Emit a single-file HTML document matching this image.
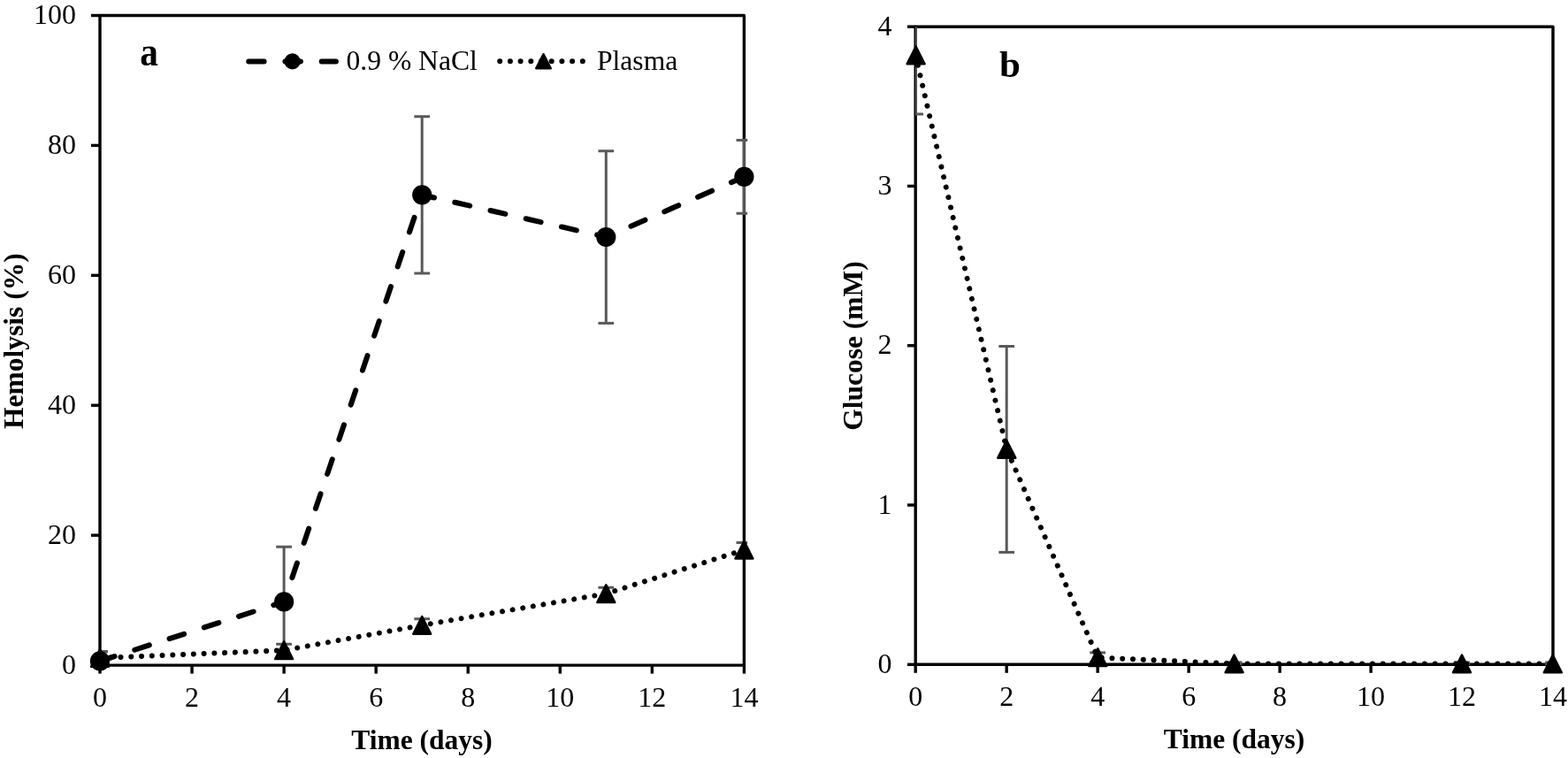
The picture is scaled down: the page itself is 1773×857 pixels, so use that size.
<!DOCTYPE html>
<html><head><meta charset="utf-8"><title>Hemolysis and glucose over time</title>
<style>
html,body{margin:0;padding:0;background:#fff;}
body{width:1773px;height:857px;overflow:hidden;}
svg{display:block;}
</style></head>
<body>
<svg width="1773" height="857" viewBox="0 0 1773 857">
<rect width="1773" height="857" fill="#fff"/>
<defs><clipPath id="ca"><rect x="113.3" y="17.5" width="731.9" height="736.3"/></clipPath>
<clipPath id="cb"><rect x="1035" y="30.2" width="724.8" height="722.8"/></clipPath></defs>
<g stroke="#000" stroke-width="3.4" fill="none" stroke-linecap="square" stroke-linejoin="round">
<rect x="113" y="17.5" width="728.4" height="734.6"/>
</g>
<g stroke="#000" stroke-width="3.4">
<line x1="103" y1="752.1" x2="113" y2="752.1"/>
<line x1="103" y1="605.18" x2="113" y2="605.18"/>
<line x1="103" y1="458.26" x2="113" y2="458.26"/>
<line x1="103" y1="311.34" x2="113" y2="311.34"/>
<line x1="103" y1="164.42" x2="113" y2="164.42"/>
<line x1="103" y1="17.5" x2="113" y2="17.5"/>
<line x1="113" y1="752.1" x2="113" y2="761.6"/>
<line x1="217.06" y1="752.1" x2="217.06" y2="761.6"/>
<line x1="321.12" y1="752.1" x2="321.12" y2="761.6"/>
<line x1="425.18" y1="752.1" x2="425.18" y2="761.6"/>
<line x1="529.24" y1="752.1" x2="529.24" y2="761.6"/>
<line x1="633.3" y1="752.1" x2="633.3" y2="761.6"/>
<line x1="737.36" y1="752.1" x2="737.36" y2="761.6"/>
<line x1="841.42" y1="752.1" x2="841.42" y2="761.6"/>
</g>
<g font-family='"Liberation Serif", serif' font-size="32" fill="#000">
<text x="86" y="761.8" text-anchor="end">0</text>
<text x="86" y="614.88" text-anchor="end">20</text>
<text x="86" y="467.96" text-anchor="end">40</text>
<text x="86" y="321.04" text-anchor="end">60</text>
<text x="86" y="174.12" text-anchor="end">80</text>
<text x="86" y="27.2" text-anchor="end">100</text>
<text x="113" y="798.5" text-anchor="middle">0</text>
<text x="217.06" y="798.5" text-anchor="middle">2</text>
<text x="321.12" y="798.5" text-anchor="middle">4</text>
<text x="425.18" y="798.5" text-anchor="middle">6</text>
<text x="529.24" y="798.5" text-anchor="middle">8</text>
<text x="633.3" y="798.5" text-anchor="middle">10</text>
<text x="737.36" y="798.5" text-anchor="middle">12</text>
<text x="841.42" y="798.5" text-anchor="middle">14</text>
</g>
<text font-family='"Liberation Serif", serif' font-size="31.5" font-weight="bold" x="477" y="846.5" text-anchor="middle">Time (days)</text>
<text font-family='"Liberation Serif", serif' font-size="31.5" font-weight="bold" transform="translate(26,385.6) rotate(-90)" text-anchor="middle">Hemolysis (%)</text>
<text font-family='"Liberation Serif", serif' font-size="43" font-weight="bold" transform="translate(158.2,74.3) scale(0.96,1.075)">a</text>
<g clip-path="url(#ca)">
<g stroke="#595959" stroke-width="3" fill="none">
<line x1="113" y1="758.2" x2="113" y2="736.6"/><line x1="104.15" y1="758.2" x2="121.85" y2="758.2"/><line x1="104.15" y1="736.6" x2="121.85" y2="736.6"/>
<line x1="321.1" y1="742.6" x2="321.1" y2="618.2"/><line x1="312.25" y1="742.6" x2="329.95" y2="742.6"/><line x1="312.25" y1="618.2" x2="329.95" y2="618.2"/>
<line x1="477.2" y1="309" x2="477.2" y2="131.8"/><line x1="468.35" y1="309" x2="486.05" y2="309"/><line x1="468.35" y1="131.8" x2="486.05" y2="131.8"/>
<line x1="685.3" y1="365.4" x2="685.3" y2="170.7"/><line x1="676.45" y1="365.4" x2="694.15" y2="365.4"/><line x1="676.45" y1="170.7" x2="694.15" y2="170.7"/>
<line x1="841.4" y1="241.3" x2="841.4" y2="158.4"/><line x1="832.55" y1="241.3" x2="850.25" y2="241.3"/><line x1="832.55" y1="158.4" x2="850.25" y2="158.4"/>
</g>
<polyline points="113,747.4 321.1,680.4 477.2,220.3 685.3,268 841.4,199.85" fill="none" stroke="#000" stroke-width="6" stroke-linecap="round" stroke-dasharray="17.4 23.85"/>
<g stroke="#595959" stroke-width="3" fill="none">
<line x1="113" y1="750.8" x2="113" y2="737"/><line x1="104.15" y1="750.8" x2="121.85" y2="750.8"/><line x1="104.15" y1="737" x2="121.85" y2="737"/>
<line x1="321.1" y1="742.2" x2="321.1" y2="728.2"/><line x1="312.25" y1="742.2" x2="329.95" y2="742.2"/><line x1="312.25" y1="728.2" x2="329.95" y2="728.2"/>
<line x1="477.2" y1="714" x2="477.2" y2="699.8"/><line x1="468.35" y1="714" x2="486.05" y2="714"/><line x1="468.35" y1="699.8" x2="486.05" y2="699.8"/>
<line x1="685.3" y1="678.1" x2="685.3" y2="664.3"/><line x1="676.45" y1="678.1" x2="694.15" y2="678.1"/><line x1="676.45" y1="664.3" x2="694.15" y2="664.3"/>
<line x1="841.4" y1="629.9" x2="841.4" y2="613.5"/><line x1="832.55" y1="629.9" x2="850.25" y2="629.9"/><line x1="832.55" y1="613.5" x2="850.25" y2="613.5"/>
</g>
<polyline points="113,743.9 321.1,735.2 477.2,706.9 685.3,671.2 841.4,621.7" fill="none" stroke="#000" stroke-width="6" stroke-linecap="round" stroke-dasharray="0.01 11.76"/>
</g>
<circle cx="113" cy="747.4" r="11.1" fill="#000"/>
<circle cx="321.1" cy="680.4" r="11.1" fill="#000"/>
<circle cx="477.2" cy="220.3" r="11.1" fill="#000"/>
<circle cx="685.3" cy="268" r="11.1" fill="#000"/>
<circle cx="841.4" cy="199.85" r="11.1" fill="#000"/>
<polygon points="113,734.05 122.95,753.75 103.05,753.75" fill="#000" stroke="#000" stroke-width="2.5" stroke-linejoin="round"/>
<polygon points="321.1,725.35 331.05,745.05 311.15,745.05" fill="#000" stroke="#000" stroke-width="2.5" stroke-linejoin="round"/>
<polygon points="477.2,697.05 487.15,716.75 467.25,716.75" fill="#000" stroke="#000" stroke-width="2.5" stroke-linejoin="round"/>
<polygon points="685.3,661.35 695.25,681.05 675.35,681.05" fill="#000" stroke="#000" stroke-width="2.5" stroke-linejoin="round"/>
<polygon points="841.4,611.85 851.35,631.55 831.45,631.55" fill="#000" stroke="#000" stroke-width="2.5" stroke-linejoin="round"/>
<line x1="281.2" y1="69.4" x2="379.9" y2="69.4" stroke="#000" stroke-width="6" stroke-linecap="round" stroke-dasharray="17.4 23.85" stroke-dashoffset="0"/>
<circle cx="330.6" cy="69.4" r="9.1" fill="#000"/>
<text font-family='"Liberation Serif", serif' font-size="31.6" x="391.5" y="79.3">0.9 % NaCl</text>
<line x1="565.2" y1="69.2" x2="665" y2="69.2" stroke="#000" stroke-width="6" stroke-linecap="round" stroke-dasharray="0.01 11.69"/>
<polygon points="614.5,61.1 622.9,77.3 606.1,77.3" fill="#000" stroke="#000" stroke-width="2.2" stroke-linejoin="round"/>
<text font-family='"Liberation Serif", serif' font-size="31.6" x="675" y="78.5">Plasma</text>
<g stroke="#000" stroke-width="3.4" fill="none" stroke-linecap="square" stroke-linejoin="round">
<rect x="1035.2" y="30.2" width="720.8" height="721.1"/>
</g>
<g stroke="#000" stroke-width="3.4">
<line x1="1026" y1="751.3" x2="1035.2" y2="751.3"/>
<line x1="1026" y1="571.02" x2="1035.2" y2="571.02"/>
<line x1="1026" y1="390.74" x2="1035.2" y2="390.74"/>
<line x1="1026" y1="210.46" x2="1035.2" y2="210.46"/>
<line x1="1026" y1="30.18" x2="1035.2" y2="30.18"/>
<line x1="1035.2" y1="751.3" x2="1035.2" y2="760.8"/>
<line x1="1138.18" y1="751.3" x2="1138.18" y2="760.8"/>
<line x1="1241.16" y1="751.3" x2="1241.16" y2="760.8"/>
<line x1="1344.14" y1="751.3" x2="1344.14" y2="760.8"/>
<line x1="1447.12" y1="751.3" x2="1447.12" y2="760.8"/>
<line x1="1550.1" y1="751.3" x2="1550.1" y2="760.8"/>
<line x1="1653.08" y1="751.3" x2="1653.08" y2="760.8"/>
<line x1="1756.06" y1="751.3" x2="1756.06" y2="760.8"/>
</g>
<g font-family='"Liberation Serif", serif' font-size="32" fill="#000">
<text x="1008.5" y="760.8" text-anchor="end">0</text>
<text x="1008.5" y="580.52" text-anchor="end">1</text>
<text x="1008.5" y="400.24" text-anchor="end">2</text>
<text x="1008.5" y="219.96" text-anchor="end">3</text>
<text x="1008.5" y="39.68" text-anchor="end">4</text>
<text x="1035.2" y="798" text-anchor="middle">0</text>
<text x="1138.18" y="798" text-anchor="middle">2</text>
<text x="1241.16" y="798" text-anchor="middle">4</text>
<text x="1344.14" y="798" text-anchor="middle">6</text>
<text x="1447.12" y="798" text-anchor="middle">8</text>
<text x="1550.1" y="798" text-anchor="middle">10</text>
<text x="1653.08" y="798" text-anchor="middle">12</text>
<text x="1756.06" y="798" text-anchor="middle">14</text>
</g>
<text font-family='"Liberation Serif", serif' font-size="31.5" font-weight="bold" x="1395.6" y="845.7" text-anchor="middle">Time (days)</text>
<text font-family='"Liberation Serif", serif' font-size="31.5" font-weight="bold" transform="translate(975,391) rotate(-90)" text-anchor="middle">Glucose (mM)</text>
<text font-family='"Liberation Serif", serif' font-size="43" font-weight="bold" x="1130" y="87">b</text>
<g clip-path="url(#cb)">
<g stroke="#595959" stroke-width="3" fill="none">
<line x1="1035.2" y1="129" x2="1035.2" y2="0"/><line x1="1026.35" y1="129" x2="1044.05" y2="129"/><line x1="1026.35" y1="0" x2="1044.05" y2="0"/>
<line x1="1138.2" y1="624.4" x2="1138.2" y2="391.5"/><line x1="1129.35" y1="624.4" x2="1147.05" y2="624.4"/><line x1="1129.35" y1="391.5" x2="1147.05" y2="391.5"/>
<line x1="1241.2" y1="748.5" x2="1241.2" y2="737.9"/><line x1="1232.35" y1="748.5" x2="1250.05" y2="748.5"/><line x1="1232.35" y1="737.9" x2="1250.05" y2="737.9"/>
<line x1="1395.6" y1="750.5" x2="1395.6" y2="748.9"/><line x1="1386.75" y1="750.5" x2="1404.45" y2="750.5"/><line x1="1386.75" y1="748.9" x2="1404.45" y2="748.9"/>
<line x1="1653.1" y1="750.5" x2="1653.1" y2="748.9"/><line x1="1644.25" y1="750.5" x2="1661.95" y2="750.5"/><line x1="1644.25" y1="748.9" x2="1661.95" y2="748.9"/>
<line x1="1756" y1="750.5" x2="1756" y2="748.9"/><line x1="1747.15" y1="750.5" x2="1764.85" y2="750.5"/><line x1="1747.15" y1="748.9" x2="1764.85" y2="748.9"/>
</g>
<polyline points="1035.2,62.3 1138.2,507.8 1241.2,743.4 1395.6,750.4 1653.1,750.4 1756,750.4" fill="none" stroke="#000" stroke-width="6" stroke-linecap="round" stroke-dasharray="0.01 11.775"/>
</g>
<polygon points="1035.6,52.65 1045.55,72.35 1025.65,72.35" fill="#000" stroke="#000" stroke-width="2.5" stroke-linejoin="round"/>
<polygon points="1138.3,497.95 1148.25,517.65 1128.35,517.65" fill="#000" stroke="#000" stroke-width="2.5" stroke-linejoin="round"/>
<polygon points="1241.3,733.35 1251.25,753.05 1231.35,753.05" fill="#000" stroke="#000" stroke-width="2.5" stroke-linejoin="round"/>
<polygon points="1395.6,740.55 1405.55,760.25 1385.65,760.25" fill="#000" stroke="#000" stroke-width="2.5" stroke-linejoin="round"/>
<polygon points="1653,740.55 1662.95,760.25 1643.05,760.25" fill="#000" stroke="#000" stroke-width="2.5" stroke-linejoin="round"/>
<polygon points="1755.8,740.65 1765.75,760.35 1745.85,760.35" fill="#000" stroke="#000" stroke-width="2.5" stroke-linejoin="round"/>
</svg>
</body></html>
